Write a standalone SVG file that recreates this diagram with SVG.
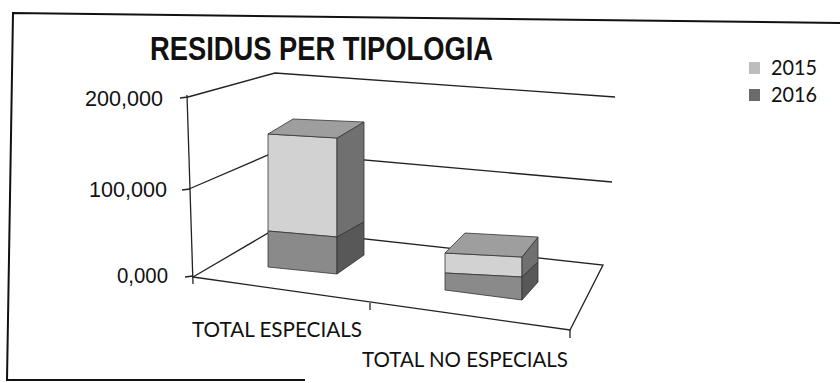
<svg xmlns="http://www.w3.org/2000/svg" width="840" height="383" viewBox="0 0 840 383">
<style>
.ln{fill:none;stroke:#222;stroke-width:1.3}
.frame{fill:none;stroke:#111;stroke-width:2}
.edge{stroke:#333;stroke-width:0.8;stroke-linejoin:round}
.lf{fill:#d2d2d2}
.df{fill:#8a8a8a}
.ls{fill:#707070}
.ds{fill:#585858}
.tp{fill:#9e9e9e}
.ax{font-family:"Liberation Sans",Arial,sans-serif;font-size:22px;fill:#111}
.cat{font-family:Lato,"Liberation Sans",sans-serif;font-size:21px;fill:#111}
.ttl{font-family:"Liberation Sans",Arial,sans-serif;font-size:33px;font-weight:bold;fill:#111}
</style>
<rect width="840" height="383" fill="#fff"/>
<polyline class="frame" points="840,23 13,13 7,380 305,380"/>
<g id="title"><text class="ttl" x="150" y="60" textLength="343" lengthAdjust="spacingAndGlyphs">RESIDUS PER TIPOLOGIA</text></g>
<g id="connectors">
<line class="ln" x1="187" y1="95" x2="193" y2="284"/>
<line class="ln" x1="180" y1="98" x2="188" y2="97"/>
<line class="ln" x1="182" y1="190" x2="190" y2="189"/>
<line class="ln" x1="185" y1="277" x2="193" y2="276"/>
<polyline class="ln" points="188,97 275,73 615,97"/>
<polyline class="ln" points="189,189 275,152 612,182"/>
<polyline class="ln" points="193,277 275,229 603,265 570,330 193,277"/>
<line class="ln" x1="370" y1="303" x2="370" y2="310"/>
<line class="ln" x1="570" y1="330" x2="570" y2="338"/>
</g>
<g id="axis-labels">
<text class="ax" x="85" y="106" textLength="78" lengthAdjust="spacingAndGlyphs">200,000</text>
<text class="ax" x="89" y="197" textLength="78" lengthAdjust="spacingAndGlyphs">100,000</text>
<text class="ax" x="117" y="283" textLength="51" lengthAdjust="spacingAndGlyphs">0,000</text>
<text class="cat" x="192" y="337" textLength="170" lengthAdjust="spacingAndGlyphs">TOTAL ESPECIALS</text>
<text class="cat" x="362" y="367" textLength="206" lengthAdjust="spacingAndGlyphs">TOTAL NO ESPECIALS</text>
</g>
<g id="bar-total-especials">
<polygon class="lf edge" points="268,134 337,138 337,237 268,231"/>
<polygon class="df edge" points="268,231 337,237 337,274 268,267"/>
<polygon class="ls edge" points="337,138 364,122 364,222 337,237"/>
<polygon class="ds edge" points="337,237 364,222 364,255 337,274"/>
<polygon class="tp edge" points="268,134 293,119 364,122 337,138"/>
</g>
<g id="bar-total-no-especials">
<polygon class="lf edge" points="445,253 522,257 522,277 445,273"/>
<polygon class="df edge" points="445,273 522,277 522,300 445,290"/>
<polygon class="ls edge" points="522,257 538,237 538,262 522,277"/>
<polygon class="ds edge" points="522,277 538,262 538,282 522,300"/>
<polygon class="tp edge" points="445,253 465,233 538,237 522,257"/>
</g>
<g id="legend">
<rect x="749" y="62" width="11" height="12" fill="#bdbdbd"/>
<text class="cat" x="771" y="75" textLength="46" lengthAdjust="spacingAndGlyphs">2015</text>
<rect x="749" y="89" width="11" height="12" fill="#6a6a6a"/>
<text class="cat" x="771" y="102" textLength="46" lengthAdjust="spacingAndGlyphs">2016</text>
</g>
</svg>
